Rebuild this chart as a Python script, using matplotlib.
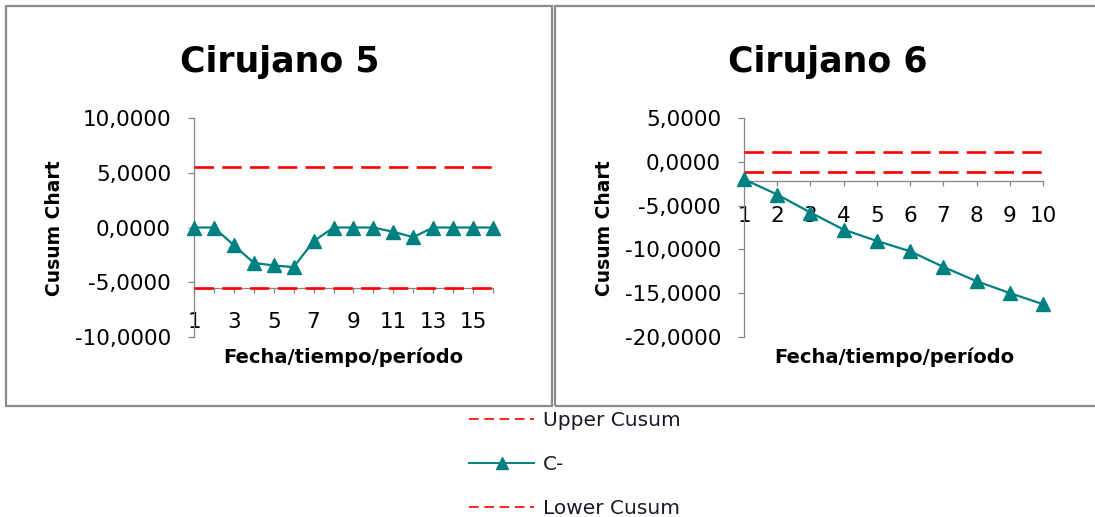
import matplotlib
matplotlib.use("Agg")
import matplotlib.pyplot as plt
from matplotlib.lines import Line2D
from matplotlib.patches import Rectangle
from matplotlib.ticker import FuncFormatter

plt.rcParams['font.family'] = ['DejaVu Sans']
plt.rcParams['lines.scale_dashes'] = False

# ---- data ----
periods5 = list(range(1, 17))
cminus5 = [0, 0, -1.62, -3.23, -3.47, -3.62, -1.25, 0, 0, 0, -0.40, -0.88, 0, 0, 0, 0]
upper5 = [5.5] * 16
lower5 = [-5.5] * 16

periods6 = list(range(1, 11))
cminus6 = [-1.98, -3.73, -5.79, -7.74, -9.04, -10.22, -12.01, -13.65, -15.00, -16.28]
upper6 = [1.1] * 10
lower6 = [-1.1] * 10

titles = ["Cirujano 5", "Cirujano 6"]
xlabel = "Fecha/tiempo/período"
ylabel = "Cusum Chart"
legend_labels = ["Upper Cusum", "C-", "Lower Cusum"]

W, H = 1095, 517
fig = plt.figure(figsize=(W / 100, H / 100), dpi=100)

def fx(px):
    return px / W

def fy(py):
    return 1 - py / H

TEAL = '#008080'
RED = '#FF0000'
GRAY = '#868686'

# panel borders
fig.patches.append(Rectangle((fx(6), fy(406)), fx(552) - fx(6), fy(6) - fy(406),
                             transform=fig.transFigure, fill=False,
                             edgecolor='#8c8c8c', lw=1.6, zorder=0))
fig.patches.append(Rectangle((fx(555), fy(406)), fx(1100) - fx(555), fy(6) - fy(406),
                             transform=fig.transFigure, fill=False,
                             edgecolor='#8c8c8c', lw=1.6, zorder=0))

fmt = FuncFormatter(lambda v, p: f"{v:.4f}".replace('.', ','))

def setup(ax, periods, cm, up, lo, ylim, yticks, cross, xticklabels):
    ax.plot(periods, up, color=RED, lw=1.9, dashes=(14, 6), zorder=2.7)
    ax.plot(periods, lo, color=RED, lw=1.9, dashes=(14, 6), zorder=2.7)
    ax.plot(periods, cm, color=TEAL, lw=1.6, marker='^', markersize=10,
            markeredgecolor=TEAL, markerfacecolor=TEAL, zorder=3, clip_on=False)
    ax.set_xlim(periods[0], periods[-1])
    ax.set_ylim(*ylim)
    ax.set_yticks(yticks)
    ax.yaxis.set_major_formatter(fmt)
    ax.set_xticks(periods)
    ax.set_xticklabels(xticklabels)
    for s in ['top', 'right']:
        ax.spines[s].set_visible(False)
    ax.spines['bottom'].set_position(('data', cross))
    for s in ['left', 'bottom']:
        ax.spines[s].set_color(GRAY)
        ax.spines[s].set_linewidth(0.9)
    ax.tick_params(axis='y', direction='out', length=4, width=0.9, color=GRAY,
                   pad=12.5, labelsize=15.5, labelcolor='black')
    ax.tick_params(axis='x', direction='out', length=3.6, width=0.9, color=GRAY,
                   pad=14, labelsize=15.5, labelcolor='black')
    ax.patch.set_alpha(0)

ax1 = fig.add_axes([fx(194), fy(337), fx(493) - fx(194), fy(118) - fy(337)])
setup(ax1, periods5, cminus5, upper5, lower5, (-10, 10), [-10, -5, 0, 5, 10], -5.5,
      [str(p) if p % 2 == 1 else '' for p in periods5])

ax2 = fig.add_axes([fx(744), fy(336.7), fx(1043) - fx(744), fy(118.3) - fy(336.7)])
setup(ax2, periods6, cminus6, upper6, lower6, (-20, 5), [-20, -15, -10, -5, 0, 5], -2.2,
      [str(p) for p in periods6])

# titles and axis labels
fig.text(fx(280), fy(62), titles[0], ha='center', va='center', fontsize=25, fontweight='bold')
fig.text(fx(828), fy(62), titles[1], ha='center', va='center', fontsize=25, fontweight='bold')
fig.text(fx(55), fy(228), ylabel, ha='center', va='center', rotation=90, fontsize=13.5, fontweight='bold')
fig.text(fx(605), fy(228), ylabel, ha='center', va='center', rotation=90, fontsize=13.5, fontweight='bold')
fig.text(fx(343), fy(357), xlabel, ha='center', va='center', fontsize=14, fontweight='bold')
fig.text(fx(894), fy(357), xlabel, ha='center', va='center', fontsize=14, fontweight='bold')

# legend
handles = [
    Line2D([], [], color=RED, lw=1.2, dashes=(7, 4)),
    Line2D([], [], color=TEAL, lw=1.4, marker='^', markersize=9, markevery=[1],
           markerfacecolor=TEAL, markeredgecolor=TEAL),
    Line2D([], [], color=RED, lw=1.2, dashes=(7, 4)),
]
leg = fig.legend(handles, legend_labels, loc='upper left',
                 bbox_to_anchor=(fx(469), fy(411)), frameon=False,
                 fontsize=14.5, handlelength=3.25, handletextpad=0.4,
                 labelspacing=1.24, borderpad=0, borderaxespad=0)
for t in leg.get_texts():
    t.set_color('#1a1a2a')

fig.savefig("out.png", dpi=100)
